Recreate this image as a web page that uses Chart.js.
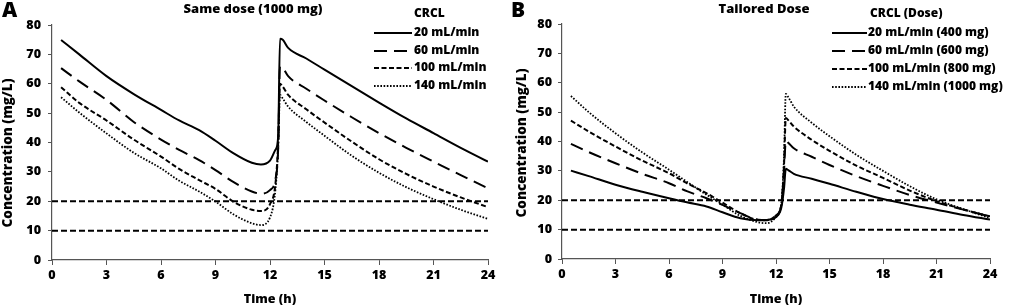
<!DOCTYPE html>
<html><head><meta charset="utf-8">
<script src="https://cdn.jsdelivr.net/npm/chart.js@4"></script>
<style>
html,body{margin:0;padding:0;background:#fff;}
#wrap{position:relative;width:1010px;height:308px;overflow:hidden;}
.pane{position:absolute;top:0;width:505px;height:308px;}
</style></head><body>
<div id="wrap">
<div class="pane" style="left:0"><canvas id="cA" width="505" height="308"></canvas></div>
<div class="pane" style="left:505px"><canvas id="cB" width="505" height="308"></canvas></div>
</div>
<script>
// ---- data ----
const times = [0.5, 1.5, 3, 4.5, 6, 7, 8.1, 9, 10, 11, 11.5, 12, 12.3, 12.45, 12.55, 12.7, 13, 14, 15, 16.5, 18, 19.5, 21, 22.5, 24];

// Panel A: same dose (1000 mg)
const sameDose20  = [74.9, 70.0, 62.6, 56.5, 51.1, 47.5, 44.2, 40.6, 36.3, 33.1, 32.5, 33.8, 37.5, 42.0, 75.3, 75.0, 72.2, 68.6, 64.8, 59.2, 53.6, 48.2, 43.2, 38.2, 33.5];
const sameDose60  = [65.3, 60.8, 54.5, 47.0, 41.0, 37.5, 34.0, 30.6, 26.5, 23.3, 22.6, 23.8, 27.5, 38.0, 66.0, 65.5, 62.6, 58.3, 54.3, 48.6, 43.2, 38.2, 33.5, 28.9, 24.4];
const sameDose100 = [58.8, 53.5, 47.5, 41.0, 35.2, 31.0, 27.2, 24.2, 19.8, 17.1, 16.7, 19.0, 26.0, 40.0, 60.0, 59.0, 56.2, 51.3, 46.8, 40.3, 34.3, 29.3, 25.0, 21.3, 18.0];
const sameDose140 = [55.4, 50.2, 43.1, 36.5, 31.2, 27.0, 23.3, 19.9, 15.5, 12.5, 11.9, 14.5, 24.0, 38.0, 56.2, 55.0, 52.2, 47.0, 42.3, 35.5, 29.7, 24.8, 20.7, 17.1, 14.0];

// Panel B: tailored dose
const tailored20  = [30.1, 28.2, 25.3, 22.9, 20.7, 19.3, 17.9, 15.9, 13.9, 13.2, 13.3, 14.3, 17.5, 24.0, 30.7, 30.2, 29.0, 27.3, 25.6, 22.9, 20.4, 18.5, 16.8, 15.0, 13.4];
const tailored60  = [39.2, 36.4, 32.6, 29.0, 25.8, 23.1, 20.7, 18.4, 15.6, 13.4, 13.3, 14.8, 18.5, 30.0, 40.2, 39.5, 37.7, 34.8, 32.0, 28.2, 24.9, 21.8, 19.2, 16.8, 14.5];
const tailored100 = [47.1, 43.4, 38.3, 33.5, 29.2, 25.8, 22.4, 19.2, 15.6, 13.3, 13.2, 14.8, 18.5, 32.0, 48.0, 47.2, 45.1, 40.6, 36.8, 31.8, 27.6, 23.3, 19.7, 16.9, 14.5];
const tailored140 = [55.5, 50.0, 42.8, 36.3, 30.4, 26.3, 21.9, 18.5, 14.7, 12.5, 12.2, 14.3, 19.0, 35.0, 56.2, 55.0, 51.9, 46.4, 41.8, 35.5, 30.0, 24.8, 20.3, 17.0, 13.9];

const thresholds = [20, 10];
const xRange = [0, 24];
const xStep = 3;
const yRange = [0, 80];
const yStep = 10;

const labelsA = ['20 mL/min', '60 mL/min', '100 mL/min', '140 mL/min'];
const labelsB = ['20 mL/min (400 mg)', '60 mL/min (600 mg)', '100 mL/min (800 mg)', '140 mL/min (1000 mg)'];
const titleA = 'Same dose (1000 mg)';
const titleB = 'Tailored Dose';
const legendTitleA = 'CRCL';
const legendTitleB = 'CRCL (Dose)';
const xTitle = 'Time (h)';
const yTitle = 'Concentration (mg/L)';

// ---- styles ----
const FONT = '"Open Sans", Lato, sans-serif';
const W = '800';
const dashes = [[], [13, 7], [5, 2.5], [1.6, 1.6]];
const widths = [2, 2, 2, 1.8];

function pts(vals) { return times.map((t, i) => ({x: t, y: vals[i]})); }

function makeChart(id, series, labels, cfg) {
  const datasets = [];
  thresholds.forEach(v => {
    datasets.push({
      data: [{x: xRange[0], y: v}, {x: xRange[1], y: v}],
      borderColor: '#000', borderWidth: 2, borderDash: [6, 3],
      pointRadius: 0, fill: false, order: 10
    });
  });
  series.forEach((s, i) => {
    datasets.push({
      label: labels[i],
      data: pts(s),
      borderColor: '#000', borderWidth: widths[i], borderDash: dashes[i],
      pointRadius: 0, fill: false, cubicInterpolationMode: 'monotone', order: i
    });
  });

  const annot = {
    id: 'annot',
    afterDraw(chart) {
      const ctx = chart.ctx;
      ctx.save();
      ctx.fillStyle = '#000';
      // panel letter
      ctx.font = W + ' 21px ' + FONT;
      ctx.textAlign = 'left'; ctx.textBaseline = 'middle';
      ctx.fillText(cfg.letter, cfg.letterX, 11);
      // title
      ctx.font = W + ' 13px ' + FONT;
      ctx.textAlign = 'center';
      ctx.fillText(cfg.title, cfg.titleX, 9);
      // y title
      ctx.save();
      ctx.translate(cfg.yTitleX, cfg.yTitleY);
      ctx.rotate(-Math.PI / 2);
      ctx.font = W + ' 13.5px ' + FONT;
      ctx.textAlign = 'center'; ctx.textBaseline = 'middle';
      ctx.fillText(yTitle, 0, 0);
      ctx.restore();
      // legend
      ctx.font = W + ' 12px ' + FONT;
      ctx.textAlign = 'left'; ctx.textBaseline = 'middle';
      ctx.fillText(cfg.legendTitle, cfg.legHeadX, 14);
      labels.forEach((lab, i) => {
        const y = cfg.legRows[i];
        ctx.save();
        ctx.strokeStyle = '#000';
        ctx.lineWidth = widths[i];
        ctx.setLineDash(dashes[i]);
        ctx.beginPath();
        ctx.moveTo(cfg.legLine[0], y);
        ctx.lineTo(cfg.legLine[1], y);
        ctx.stroke();
        ctx.restore();
        ctx.fillText(lab, cfg.legText, y);
      });
      ctx.restore();
    }
  };

  return new Chart(document.getElementById(id), {
    type: 'line',
    data: {datasets},
    options: {
      responsive: false,
      animation: false,
      devicePixelRatio: 1,
      layout: {padding: {top: cfg.top, right: cfg.right, left: 0, bottom: 0}},
      plugins: {legend: {display: false}, tooltip: {enabled: false}, title: {display: false}},
      scales: {
        x: {
          type: 'linear', min: xRange[0], max: xRange[1],
          afterFit: s => { s.height = cfg.xH; },
          ticks: {stepSize: xStep, color: '#000', font: {family: FONT, size: 12.5, weight: W}, padding: 3, maxRotation: 0},
          grid: {drawOnChartArea: false, drawTicks: true, tickLength: 5, color: '#555', lineWidth: 1},
          border: {color: '#555', width: 1.2},
          title: {display: true, text: xTitle, color: '#000', font: {family: FONT, size: 12.5, weight: W}, padding: {top: 0, bottom: 1}}
        },
        y: {
          min: yRange[0], max: yRange[1],
          afterFit: s => { s.width = cfg.yW; },
          ticks: {stepSize: yStep, color: '#000', font: {family: FONT, size: 12.5, weight: W}, padding: cfg.yPad},
          grid: {drawOnChartArea: false, drawTicks: true, tickLength: 4, color: '#555', lineWidth: 1},
          border: {color: '#555', width: 1.2}
        }
      }
    },
    plugins: [annot]
  });
}

makeChart('cA', [sameDose20, sameDose60, sameDose100, sameDose140], labelsA, {
  letter: 'A', letterX: 2, title: titleA, titleX: 253,
  yTitleX: 8, yTitleY: 153, legendTitle: legendTitleA, legHeadX: 414,
  legRows: [33, 51, 68, 86], legLine: [374, 412], legText: 414,
  top: 25, right: 17, xH: 48, yW: 52, yPad: 7
});
makeChart('cB', [tailored20, tailored60, tailored100, tailored140], labelsB, {
  letter: 'B', letterX: 6, title: titleB, titleX: 259,
  yTitleX: 17, yTitleY: 143, legendTitle: legendTitleB, legHeadX: 365,
  legRows: [33, 51, 69, 87], legLine: [327, 362], legText: 363,
  top: 24, right: 20, xH: 49, yW: 57, yPad: 6
});
</script>
</body></html>
